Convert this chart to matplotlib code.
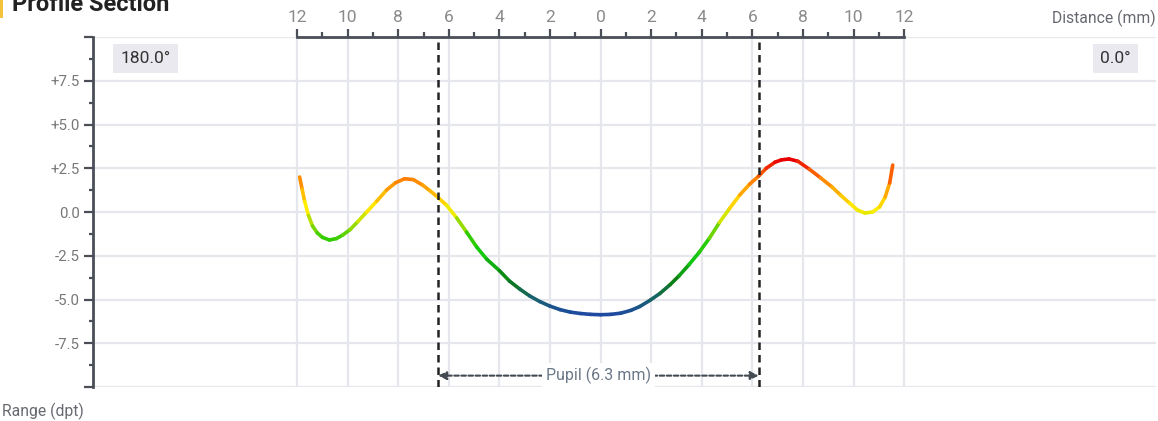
import numpy as np
import matplotlib
matplotlib.use('Agg')
import matplotlib.pyplot as plt
from matplotlib.collections import LineCollection
from matplotlib.colors import LinearSegmentedColormap, Normalize
from matplotlib.ticker import MultipleLocator, FixedLocator, FuncFormatter

plt.rcParams['font.family'] = ['Roboto', 'DejaVu Sans']

# profile (distance mm, power dpt)
dist = [-11.9, -11.8, -11.7, -11.55, -11.39, -11.2, -11.0, -10.72, -10.45, -10.2,
        -9.9, -9.6, -9.25, -8.85, -8.46, -8.1, -7.75, -7.4, -7.04, -6.75, -6.45,
        -6.1, -5.69, -5.3, -4.9, -4.5, -4.0, -3.6, -3.2, -2.8, -2.4,
        -2.0, -1.6, -1.2, -0.8, -0.4, 0.0, 0.4, 0.8, 1.2, 1.55,
        1.95, 2.35, 2.75, 3.1, 3.5, 3.9, 4.3, 4.7, 5.1, 5.5,
        5.9, 6.25, 6.55, 6.9, 7.15, 7.45, 7.8, 8.25, 8.7, 9.15,
        9.5, 9.85, 10.15, 10.45, 10.75, 11.03, 11.25, 11.43, 11.55]
power = [2.0, 1.3, 0.6, -0.2, -0.8, -1.2, -1.45, -1.6, -1.52, -1.32,
         -1.0, -0.55, 0.0, 0.62, 1.26, 1.68, 1.9, 1.85, 1.54, 1.22, 0.86,
         0.4, -0.34, -1.15, -2.0, -2.7, -3.35, -3.95, -4.4, -4.8, -5.12,
         -5.38, -5.58, -5.72, -5.8, -5.85, -5.87, -5.85, -5.78, -5.62, -5.4,
         -5.05, -4.65, -4.15, -3.65, -3.0, -2.3, -1.5, -0.6, 0.2, 0.97,
         1.6, 2.05, 2.5, 2.85, 2.98, 3.03, 2.9, 2.45, 1.95, 1.43,
         0.95, 0.5, 0.12, -0.06, 0.0, 0.29, 0.85, 1.66, 2.68]

pupil_left = -6.42
pupil_right = 6.25
pupil_label = 'Pupil (6.3 mm)'
left_angle = '180.0°'
right_angle = '0.0°'

W, H = 1158, 421
fig = plt.figure(figsize=(W / 100, H / 100), dpi=100)
ax = fig.add_axes([93 / W, 34 / H, (1156 - 93) / W, (387 - 37) / H])
ax.set_xlim(-20.07, 21.96)
ax.set_ylim(-10, 10)

axis_col = '#4a4e57'
grid_col = '#e6e6ed'

# ticks & grid
ax.xaxis.set_ticks_position('top')
ax.xaxis.set_major_locator(FixedLocator(np.arange(-12, 13, 2)))
ax.xaxis.set_minor_locator(FixedLocator(np.arange(-12, 13, 1)))
ax.xaxis.set_major_formatter(FuncFormatter(lambda v, p: '%d' % abs(round(v))))
ax.yaxis.set_major_locator(MultipleLocator(2.5))
ax.yaxis.set_minor_locator(MultipleLocator(1.25))


def yfmt(v, p):
    if abs(v) > 9:
        return ''
    if v > 0.01:
        return '+%.1f' % v
    if abs(v) < 0.01:
        return '0.0'
    return '%.1f' % v


ax.yaxis.set_major_formatter(FuncFormatter(yfmt))
ax.grid(True, which='major', color=grid_col, lw=1.6)
ax.set_axisbelow(True)

for s in ['right', 'bottom']:
    ax.spines[s].set_visible(False)
ax.spines['top'].set_bounds(-12, 12)
ax.spines['top'].set_color(axis_col)
ax.spines['top'].set_linewidth(2)
ax.spines['left'].set_color(axis_col)
ax.spines['left'].set_linewidth(2)

ax.tick_params(axis='x', which='major', length=6, width=1.6, color=axis_col,
               labelsize=12.5, labelcolor='#8a8a8a', pad=3)
ax.tick_params(axis='x', which='minor', length=3.5, width=1.6, color=axis_col)
ax.tick_params(axis='y', which='major', length=6.5, width=1.6, color=axis_col,
               labelsize=10.8, labelcolor='#777777', pad=3)
ax.tick_params(axis='y', which='minor', length=3, width=1.6, color=axis_col)

# colored profile line
stops = [(-6.0, '#1f47a8'), (-5.0, '#186070'), (-4.0, '#0b7a14'), (-2.6, '#10c810'),
         (-1.5, '#33cc00'), (-0.6, '#aadd00'), (0.2, '#ffee00'), (1.0, '#ffbb00'),
         (2.0, '#ff7700'), (3.0, '#e80000')]
vmin, vmax = stops[0][0], stops[-1][0]
cmap = LinearSegmentedColormap.from_list(
    'refr', [((v - vmin) / (vmax - vmin), c) for v, c in stops])
norm = Normalize(vmin=vmin, vmax=vmax)
pts = np.column_stack([dist, power])
segs = np.stack([pts[:-1], pts[1:]], axis=1)
vals = (np.array(power[:-1]) + np.array(power[1:])) / 2
lc = LineCollection(segs, cmap=cmap, norm=norm, linewidths=2.6, capstyle='round',
                    joinstyle='round', zorder=3)
lc.set_array(vals)
ax.add_collection(lc)

# pupil markers
for xp in [pupil_left, pupil_right]:
    ax.axvline(xp, color='#222222', lw=1.8, ls=(0, (3, 2)), zorder=4)
ax.annotate('', xy=(pupil_left, -9.35), xytext=(pupil_right, -9.35),
            arrowprops=dict(arrowstyle='<|-|>', color='#444a52', lw=1.5,
                            ls=(0, (2.2, 1.2)), mutation_scale=12, shrinkA=0, shrinkB=0),
            zorder=4)
ax.text((pupil_left + pupil_right) / 2, -9.35, pupil_label, ha='center', va='center',
        fontsize=11.5, color='#6b7888', zorder=5,
        bbox=dict(boxstyle='square,pad=0.25', fc='white', ec='none'))

# angle boxes
ax.text(-18.0, 8.76, left_angle, ha='center', va='center', fontsize=12.5, color='#333333',
        bbox=dict(boxstyle='square,pad=0.42', fc='#e9e9ef', ec='none'))
ax.text(20.36, 8.76, right_angle, ha='center', va='center', fontsize=12.5, color='#333333',
        bbox=dict(boxstyle='square,pad=0.42', fc='#e9e9ef', ec='none'))

# figure texts
fig.text(1156 / W, 1 - 18 / H, 'Distance (mm)', ha='right', va='center',
         fontsize=11.3, color='#666a70')
fig.text(2 / W, 1 - 411 / H, 'Range (dpt)', ha='left', va='center',
         fontsize=11.3, color='#666a70')
fig.text(12 / W, 1 - 11 / H, 'Profile Section', ha='left', va='baseline',
         fontsize=17, fontweight='bold', color='#222222')
fig.patches.append(plt.Rectangle((0, 1 - 18 / H), 3 / W, 18 / H, transform=fig.transFigure,
                                 fc='#f5c33b', ec='none'))

fig.savefig('out.png', dpi=100)
